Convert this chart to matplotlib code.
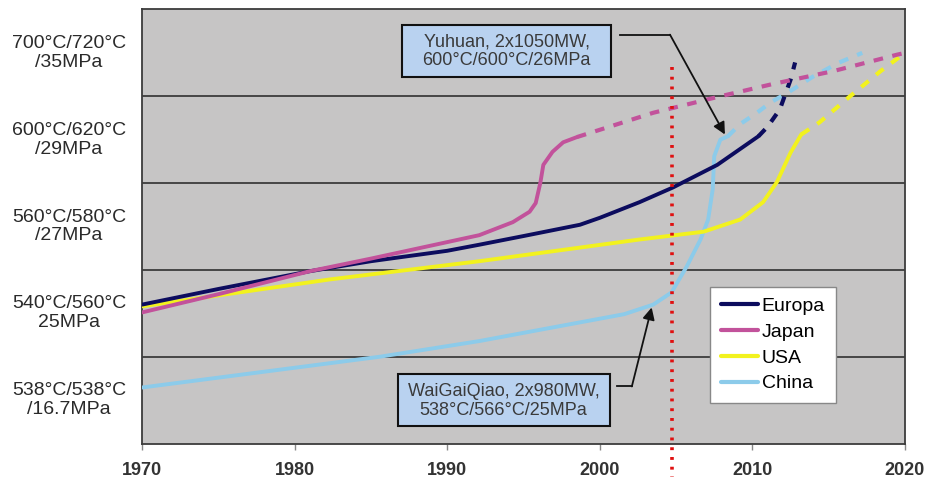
import matplotlib

matplotlib.use("Agg")

import matplotlib.pyplot as plt
from matplotlib.patches import Rectangle
from matplotlib.transforms import blended_transform_factory

plt.rcParams["font.family"] = ["Liberation Sans", "DejaVu Sans"]

# steam parameter levels (band labels, bottom to top)
LEVEL_LABELS = [
    "538°C/538°C\n/16.7MPa",
    "540°C/560°C\n25MPa",
    "560°C/580°C\n/27MPa",
    "600°C/620°C\n/29MPa",
    "700°C/720°C\n/35MPa",
]
YEAR_TICKS = [1970, 1980, 1990, 2000, 2010, 2020]

# Europa
EU_YEARS = [1970, 1975, 1981, 1985, 1990, 1992.1, 1995, 1998.7, 2000, 2002.6, 2004.8, 2007.7, 2010.4]
EU_LEVEL = [1.60, 1.78, 1.985, 2.10, 2.22, 2.29, 2.39, 2.52, 2.60, 2.78, 2.95, 3.21, 3.54]
EU_FUT_YEARS = [2010.4, 2011.0, 2011.8, 2012.5, 2012.8]
EU_FUT_LEVEL = [3.54, 3.65, 3.85, 4.19, 4.39]

# Japan
JP_YEARS = [1970, 1975, 1981, 1985, 1992.1, 1994.3, 1995.4, 1995.8, 1996.1, 1996.3, 1996.9, 1997.6, 1998.5]
JP_LEVEL = [1.51, 1.72, 1.985, 2.13, 2.40, 2.55, 2.67, 2.77, 3.00, 3.21, 3.36, 3.47, 3.53]
JP_FUT_YEARS = [1998.5, 2003.5, 2007.9, 2011.3, 2015.3, 2019.5, 2020]
JP_FUT_LEVEL = [3.53, 3.81, 4.00, 4.14, 4.29, 4.48, 4.50]

# USA
US_YEARS = [1970, 1982.3, 1992.1, 2002.6, 2006.8, 2009.2, 2010.7, 2011.6, 2012.5, 2013.2]
US_LEVEL = [1.58, 1.89, 2.10, 2.35, 2.44, 2.58, 2.78, 3.01, 3.35, 3.56]
US_FUT_YEARS = [2013.2, 2014.4, 2016.4, 2018.4, 2020]
US_FUT_LEVEL = [3.56, 3.70, 4.00, 4.29, 4.50]

# China
CN_YEARS = [1970, 1985.6, 1992.1, 2001.6, 2003.5, 2004.7, 2005.7, 2006.6, 2007.1, 2007.4, 2007.5, 2007.9, 2008.4]
CN_LEVEL = [0.645, 1.00, 1.18, 1.49, 1.60, 1.74, 2.04, 2.35, 2.58, 2.93, 3.31, 3.50, 3.54]
CN_FUT_YEARS = [2008.4, 2009.2, 2010.3, 2011.2, 2012.3, 2014.0, 2015.7, 2017.2]
CN_FUT_LEVEL = [3.54, 3.68, 3.81, 3.93, 4.04, 4.23, 4.39, 4.50]

TODAY_YEAR = 2004.7

SERIES = [
    ("China", CN_YEARS, CN_LEVEL, CN_FUT_YEARS, CN_FUT_LEVEL, "#8ccbea"),
    ("USA", US_YEARS, US_LEVEL, US_FUT_YEARS, US_FUT_LEVEL, "#f2f21e"),
    ("Europa", EU_YEARS, EU_LEVEL, EU_FUT_YEARS, EU_FUT_LEVEL, "#0c0c5e"),
    ("Japan", JP_YEARS, JP_LEVEL, JP_FUT_YEARS, JP_FUT_LEVEL, "#c2529b"),
]
LEGEND_ORDER = ["Europa", "Japan", "USA", "China"]

GRID_COLOR = "#3c3c3c"
TEXT_COLOR = "#2a2a2a"
BOX_FILL = "#b9d2f0"


def main() -> None:
    fig = plt.figure(figsize=(9.3, 4.79), dpi=100)
    ax = fig.add_axes([0.1527, 0.0741, 0.8204, 0.9061])
    ax.set_facecolor("#c6c5c5")
    ax.set_xlim(1970, 2020)
    ax.set_ylim(0, 5)

    for level in range(1, 5):
        ax.axhline(level, color=GRID_COLOR, lw=1.3, zorder=1)

    handles = {}
    for name, xs, ys, fx, fy, color in SERIES:
        (h,) = ax.plot(xs, ys, color=color, lw=2.8, solid_capstyle="round",
                       solid_joinstyle="round", zorder=3, label=name)
        ax.plot(fx, fy, color=color, lw=3.0, linestyle=(0, (2.3, 2.3)), dash_capstyle="butt", zorder=3)
        handles[name] = h

    ax.plot([TODAY_YEAR, TODAY_YEAR], [4.34, -0.39], color="#e01010", lw=2.6,
            linestyle=(0, (0.8, 1.9)), dash_capstyle="butt", zorder=4, clip_on=False)

    for sp in ax.spines.values():
        sp.set_color(GRID_COLOR)
        sp.set_linewidth(1.3)

    ax.set_xticks(YEAR_TICKS)
    ax.set_xticklabels([str(y) for y in YEAR_TICKS], fontsize=13, fontweight="bold", color="#333333")
    ax.tick_params(axis="x", direction="out", length=4, width=1, color="#888888", pad=9)
    ax.set_yticks([])

    trans = blended_transform_factory(fig.transFigure, ax.transData)
    for i, label in enumerate(LEVEL_LABELS):
        fig.text(0.0742, i + 0.5, label, transform=trans, ha="center", va="center",
                 fontsize=14, color=TEXT_COLOR, linespacing=1.15)

    # callout boxes
    ax.add_patch(Rectangle((1987.04, 4.217), 13.69, 0.599, facecolor=BOX_FILL,
                           edgecolor="#111111", lw=1.5, zorder=5))
    ax.text(1993.9, 4.52, "Yuhuan, 2x1050MW,\n600°C/600°C/26MPa", ha="center", va="center",
            fontsize=13, color="#3a3a3a", linespacing=1.15, zorder=6)
    ax.plot([2001.3, 2004.6], [4.71, 4.71], color="#111111", lw=1.3, zorder=5)
    ax.annotate("", xy=(2008.2, 3.56), xytext=(2004.6, 4.71),
                arrowprops=dict(arrowstyle="-|>", color="#111111", lw=1.3,
                                mutation_scale=18, shrinkA=0, shrinkB=0), zorder=5)

    ax.add_patch(Rectangle((1986.78, 0.196), 13.89, 0.599, facecolor=BOX_FILL,
                           edgecolor="#111111", lw=1.5, zorder=5))
    ax.text(1993.7, 0.495, "WaiGaiQiao, 2x980MW,\n538°C/566°C/25MPa", ha="center", va="center",
            fontsize=13, color="#3a3a3a", linespacing=1.15, zorder=6)
    ax.plot([2001.1, 2002.1], [0.657, 0.657], color="#111111", lw=1.3, zorder=5)
    ax.annotate("", xy=(2003.4, 1.567), xytext=(2002.1, 0.657),
                arrowprops=dict(arrowstyle="-|>", color="#111111", lw=1.3,
                                mutation_scale=18, shrinkA=0, shrinkB=0), zorder=5)

    leg = ax.legend([handles[n] for n in LEGEND_ORDER], LEGEND_ORDER,
                    loc="upper left", bbox_to_anchor=(0.7445, 0.3613),
                    fontsize=14, frameon=True, fancybox=False, handlelength=1.9,
                    handletextpad=0.2, labelspacing=0.42, borderpad=0.55,
                    borderaxespad=0)
    leg.get_frame().set_edgecolor("#888888")
    leg.get_frame().set_linewidth(1.0)
    leg.get_frame().set_facecolor("white")
    leg.get_frame().set_alpha(1)
    leg.set_zorder(6)
    for line in leg.get_lines():
        line.set_linewidth(3)

    fig.savefig("out.png", dpi=100)
    plt.close(fig)


if __name__ == "__main__":
    main()
